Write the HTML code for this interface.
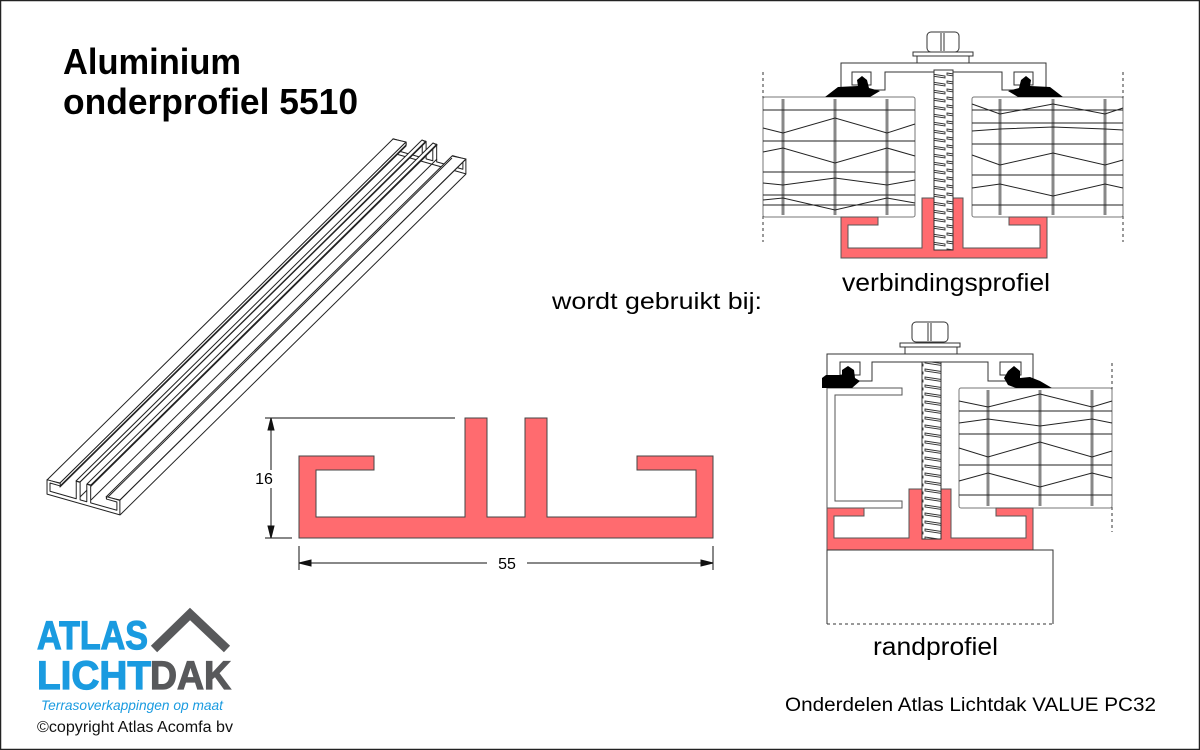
<!DOCTYPE html>
<html><head><meta charset="utf-8"><style>
html,body{margin:0;padding:0;background:#fff}
svg{display:block}
text{font-family:"Liberation Sans",sans-serif}
</style></head><body>
<svg width="1200" height="750" viewBox="0 0 1200 750" xmlns="http://www.w3.org/2000/svg">
<defs>
<pattern id="thr" x="0" y="0" width="22" height="8" patternUnits="userSpaceOnUse">
<rect width="22" height="8" fill="#fff"/>
<path d="M1 1 L21 4 L21 6 L1 3 Z" fill="#fff" stroke="#333" stroke-width="0.9"/>
</pattern>
</defs>
<rect x="0.5" y="0.5" width="1199" height="749" fill="#fff" stroke="#222" stroke-width="1.5"/>

<!-- Title -->
<text x="63" y="74" font-size="36" font-weight="bold" textLength="178" lengthAdjust="spacingAndGlyphs">Aluminium</text>
<text x="63" y="114" font-size="36" font-weight="bold" textLength="295" lengthAdjust="spacingAndGlyphs">onderprofiel 5510</text>

<!-- 3D extrusion -->
<g fill="#fff" stroke="#222" stroke-width="1" stroke-linejoin="round">
<g transform="translate(346,-341)">
<polygon vector-effect="non-scaling-stroke" transform="matrix(0.176,0.05,0,0.176,-5.6,384.5)" points="299,456 374,456 374,470 316,470 316,517 465,517 465,418 487,418 487,517 525,517 525,418 547,418 547,517 696,517 696,470 637,470 637,456 713,456 713,538 299,538"/>
</g>
<polygon points="47,480 393,139 406,142 60,483"/>
<polygon points="60,483 406,142 406,146 60,487" />
<polygon points="76,481 422,140 426,142 80,482"/>
<polygon points="87,484 433,143 437,145 91,485"/>
<line x1="80" y1="482" x2="426" y2="141"/>
<line x1="80" y1="497" x2="426" y2="156"/>
<line x1="91" y1="485" x2="437" y2="144"/>
<line x1="91" y1="500" x2="437" y2="159"/>
<polygon points="106,497 452,156 466,159 120,500"/>
<line x1="120" y1="500" x2="466" y2="159"/>
<line x1="120" y1="515" x2="466" y2="174"/>
<line x1="60" y1="486" x2="406" y2="145"/>
<line x1="106" y1="499" x2="452" y2="158"/>
<polygon vector-effect="non-scaling-stroke" transform="matrix(0.176,0.05,0,0.176,-5.6,384.5)" points="299,456 374,456 374,470 316,470 316,517 465,517 465,418 487,418 487,517 525,517 525,418 547,418 547,517 696,517 696,470 637,470 637,456 713,456 713,538 299,538"/>
</g>

<!-- Main cross-section -->
<polygon points="299,456 374,456 374,470 316,470 316,517 465,517 465,418 487,418 487,517 525,517 525,418 547,418 547,517 696,517 696,470 637,470 637,456 713,456 713,538 299,538" fill="#ff6b6f" stroke="#444" stroke-width="1"/>
<g stroke="#111" stroke-width="1" fill="#111">
<line x1="265" y1="418" x2="455" y2="418"/>
<line x1="265" y1="538" x2="292" y2="538"/>
<line x1="271" y1="420" x2="271" y2="470"/>
<line x1="271" y1="488" x2="271" y2="536"/>
<polygon points="271,418 268,430 274,430"/>
<polygon points="271,538 268,526 274,526"/>
<line x1="299" y1="546" x2="299" y2="570"/>
<line x1="713" y1="546" x2="713" y2="570"/>
<line x1="301" y1="563" x2="487" y2="563"/>
<line x1="527" y1="563" x2="711" y2="563"/>
<polygon points="299,563 311,560 311,566"/>
<polygon points="713,563 701,560 701,566"/>
</g>
<text x="264" y="484" font-size="16" text-anchor="middle">16</text>
<text x="507" y="569" font-size="16" text-anchor="middle">55</text>

<!-- TOP diagram: verbindingsprofiel -->
<g stroke="#333" stroke-width="1" fill="none">
<line x1="763" y1="72" x2="763" y2="242" stroke-dasharray="3,3"/>
<line x1="1123" y1="72" x2="1123" y2="242" stroke-dasharray="3,3"/>
<rect x="763" y="97" width="152" height="120" rx="2" fill="#fff" stroke="#777"/>
<rect x="972" y="97" width="151" height="120" rx="2" fill="#fff" stroke="#777"/>
<g stroke="#888" stroke-width="3">
<line x1="783" y1="99" x2="783" y2="215"/><line x1="835" y1="99" x2="835" y2="215"/><line x1="887" y1="99" x2="887" y2="215"/>
<line x1="1000" y1="99" x2="1000" y2="215"/><line x1="1053" y1="99" x2="1053" y2="215"/><line x1="1105" y1="99" x2="1105" y2="215"/>
</g>
<g stroke="#222">
<line x1="763" y1="110" x2="915" y2="110"/><line x1="763" y1="141" x2="915" y2="141"/><line x1="763" y1="172" x2="915" y2="172"/><line x1="763" y1="195" x2="915" y2="195"/><line x1="763" y1="205" x2="915" y2="205"/>
<polyline points="763,128 783,133 835,118 887,133 915,124"/>
<polyline points="763,152 783,148 835,163 887,148 915,156"/>
<polyline points="763,183 783,185 835,178 887,185 915,180"/>
<polyline points="763,200 783,198 835,210 887,198 915,203"/>
<line x1="972" y1="110" x2="1123" y2="110"/><line x1="972" y1="123" x2="1123" y2="123"/><line x1="972" y1="144" x2="1123" y2="144"/><line x1="972" y1="175" x2="1123" y2="175"/><line x1="972" y1="205" x2="1123" y2="205"/>
<polyline points="972,104 1000,114 1053,104 1105,114 1123,108"/>
<polyline points="972,131 1000,129 1053,127 1105,129 1123,130"/>
<polyline points="972,155 1000,165 1053,153 1105,165 1123,160"/>
<polyline points="972,188 1000,184 1053,196 1105,184 1123,188"/>
</g>
</g>
<path d="M841,63 H1046 V90 H1002 V72 H885 V90 H841 Z" fill="#fff" stroke="#333" stroke-width="1"/>
<rect x="852" y="72" width="19" height="13" fill="#fff" stroke="#333"/>
<rect x="1014" y="72" width="19" height="13" fill="#fff" stroke="#333"/>
<path d="M825,97 L838,87 L858,86 L857,80 L862,76 L867,80 L869,88 L880,91 L870,97 Z" fill="#000"/>
<path d="M1063,97 L1050,87 L1030,86 L1031,80 L1026,76 L1021,80 L1019,88 L1008,91 L1018,97 Z" fill="#000"/>
<rect x="913" y="52" width="60" height="4" fill="#fff" stroke="#333"/>
<rect x="917" y="56" width="52" height="7" fill="#fff" stroke="#333"/>
<rect x="927" y="32" width="32" height="20" rx="4" fill="#fff" stroke="#333"/>
<line x1="941" y1="33" x2="941" y2="51" stroke="#333"/><line x1="944" y1="33" x2="944" y2="51" stroke="#333"/>
<polygon points="841,217 878,217 878,225 848,225 848,248 922,248 922,198 963,198 963,248 1040,248 1040,225 1009,225 1009,217 1047,217 1047,258 841,258" fill="#ff6b6f" stroke="#555"/>
<rect x="934" y="70" width="19" height="180" fill="url(#thr)" stroke="#333"/>

<!-- BOTTOM diagram: randprofiel -->
<line x1="1112" y1="363" x2="1112" y2="532" stroke="#333" stroke-dasharray="3,3"/>
<rect x="959" y="388" width="153" height="120" rx="2" fill="#fff" stroke="#777"/>
<g stroke="#888" stroke-width="3">
<line x1="988" y1="390" x2="988" y2="506"/><line x1="1040" y1="390" x2="1040" y2="506"/><line x1="1092" y1="390" x2="1092" y2="506"/>
</g>
<g stroke="#222" fill="none">
<line x1="959" y1="411" x2="1112" y2="411"/><line x1="959" y1="434" x2="1112" y2="434"/><line x1="959" y1="465" x2="1112" y2="465"/><line x1="959" y1="495" x2="1112" y2="495"/>
<polyline points="959,401 988,407 1040,394 1092,407 1112,401"/>
<polyline points="959,423 988,419 1040,426 1092,419 1112,423"/>
<polyline points="959,448 988,457 1040,442 1092,457 1112,451"/>
<polyline points="959,481 988,473 1040,487 1092,473 1112,478"/>
</g>
<path d="M827,388 H902 V395 H835 V501 H902 V508 H827 Z" fill="#fff" stroke="#555"/>
<path d="M827,354 H1033 V381 H988 V362 H872 V381 H827 Z" fill="#fff" stroke="#333"/>
<rect x="840" y="362" width="20" height="13" fill="#fff" stroke="#333"/>
<rect x="1000" y="362" width="21" height="13" fill="#fff" stroke="#333"/>
<path d="M822,388 L822,378 L826,375 L842,375 L842,370 L848,366 L854,370 L855,378 L860,381 L852,388 Z" fill="#000"/>
<path d="M1052,388 L1040,381 L1030,377 L1020,378 L1020,371 L1014,366 L1008,371 L1004,378 L1008,385 L1016,388 Z" fill="#000"/>
<rect x="900" y="343" width="60" height="4" fill="#fff" stroke="#333"/>
<rect x="905" y="347" width="52" height="7" fill="#fff" stroke="#333"/>
<rect x="912" y="322" width="36" height="20" rx="4" fill="#fff" stroke="#333"/>
<line x1="928" y1="323" x2="928" y2="341" stroke="#333"/><line x1="931" y1="323" x2="931" y2="341" stroke="#333"/>
<polygon points="827,508 864,508 864,516 834,516 834,538 909,538 909,489 951,489 951,538 1026,538 1026,516 996,516 996,508 1033,508 1033,550 827,550" fill="#ff6b6f" stroke="#555"/>
<rect x="922" y="362" width="19" height="177" fill="url(#thr)" stroke="#333"/>
<path d="M827,624 V550 H1053 V624" fill="#fff" stroke="#333"/>
<line x1="827" y1="624" x2="1053" y2="624" stroke="#333" stroke-dasharray="3,3"/>

<!-- labels -->
<text x="552" y="309" font-size="23" textLength="210" lengthAdjust="spacingAndGlyphs">wordt gebruikt bij:</text>
<text x="842" y="291" font-size="25" textLength="208" lengthAdjust="spacingAndGlyphs">verbindingsprofiel</text>
<text x="873" y="655" font-size="25" textLength="125" lengthAdjust="spacingAndGlyphs">randprofiel</text>
<text x="785" y="711" font-size="19" textLength="371" lengthAdjust="spacingAndGlyphs">Onderdelen Atlas Lichtdak VALUE PC32</text>

<!-- logo -->
<polyline points="154,649 190,614 227,649" fill="none" stroke="#58595b" stroke-width="9"/>
<text x="37" y="649" font-size="40" font-weight="bold" fill="#1a9be0" textLength="111" lengthAdjust="spacingAndGlyphs" stroke="#1a9be0" stroke-width="1.2">ATLAS</text>
<text x="37" y="689" font-size="40" font-weight="bold" fill="#1a9be0" textLength="114" lengthAdjust="spacingAndGlyphs" stroke="#1a9be0" stroke-width="1.2">LICHT</text>
<text x="150" y="689" font-size="40" font-weight="bold" fill="#58595b" textLength="81" lengthAdjust="spacingAndGlyphs" stroke="#58595b" stroke-width="1.2">DAK</text>
<text x="41" y="710" font-size="14" font-style="italic" fill="#1a9be0" textLength="182" lengthAdjust="spacingAndGlyphs">Terrasoverkappingen op maat</text>
<text x="37" y="732" font-size="16" fill="#111" textLength="196" lengthAdjust="spacingAndGlyphs">©copyright Atlas Acomfa bv</text>
</svg>
</body></html>
